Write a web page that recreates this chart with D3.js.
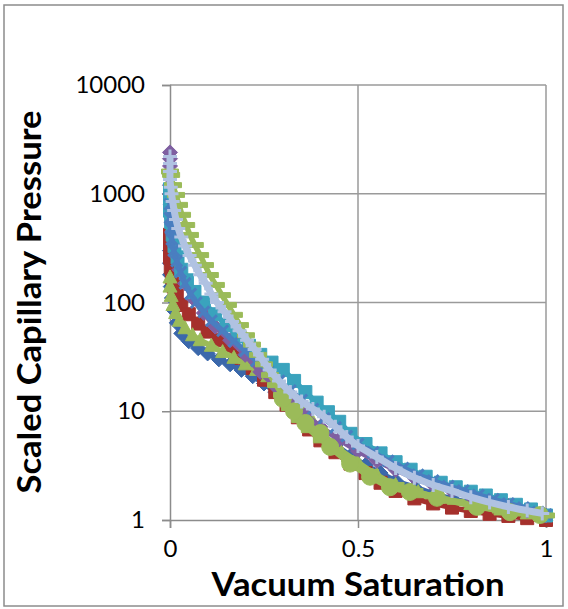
<!DOCTYPE html>
<html>
<head>
<meta charset="utf-8">
<script src="https://cdn.jsdelivr.net/npm/d3@7"></script>
<style>
body { margin: 0; background: #fff; }
text { font-family: Lato, "Open Sans", sans-serif; }
</style>
</head>
<body>
<script>
// axis values
var xTicks = [0, 0.5, 1];
var yTicks = [1, 10, 100, 1000, 10000];

// series points: [vacuum saturation, scaled capillary pressure]
var darkBlueDiamond = [[0,300],[0,230],[0,180],[0.002,140],[0.005,110],[0.01,85],[0.018,65],[0.03,52],[0.05,44],[0.075,38],[0.1,34],[0.13,30],[0.16,27],[0.19,24],[0.22,21],[0.25,18],[0.28,15],[0.31,12],[0.34,9.5],[0.37,7.6],[0.4,6.2],[0.44,4.9],[0.48,3.9],[0.52,3.2],[0.56,2.7],[0.6,2.3],[0.65,2.0],[0.7,1.75],[0.75,1.57],[0.8,1.43],[0.85,1.32],[0.9,1.22],[0.95,1.14],[1,1.07]];
var redSquare = [[0,420],[0,330],[0,260],[0.002,210],[0.005,170],[0.01,140],[0.018,115],[0.03,95],[0.05,78],[0.075,64],[0.1,54],[0.13,45],[0.16,38],[0.19,31],[0.22,25],[0.25,19.5],[0.28,15],[0.31,11.5],[0.34,8.8],[0.37,6.8],[0.4,5.4],[0.44,4.2],[0.48,3.3],[0.52,2.7],[0.56,2.2],[0.6,1.85],[0.65,1.58],[0.7,1.42],[0.75,1.3],[0.8,1.21],[0.85,1.14],[0.9,1.09],[0.95,1.04],[1,1.0]];
var greenTriangle = [[0,170],[0,140],[0.003,115],[0.008,95],[0.015,80],[0.025,68],[0.04,58],[0.06,50],[0.08,45],[0.11,40],[0.14,35],[0.17,31],[0.2,27],[0.23,24],[0.26,21],[0.29,18],[0.32,14.5],[0.35,11],[0.38,8],[0.41,6],[0.45,4.5],[0.5,3.4],[0.55,2.6],[0.6,2.1],[0.66,1.8],[0.72,1.6],[0.8,1.4],[0.88,1.25],[0.95,1.15],[1,1.1]];
var purpleDiamond = [[0,2400],[0,2100],[0,1800],[0,1500],[0,1200],[0,1000],[0.002,800],[0.004,600],[0.006,450],[0.01,350],[0.015,270],[0.025,200],[0.04,150],[0.06,110],[0.09,80],[0.12,60],[0.16,45],[0.2,33],[0.24,23],[0.28,17],[0.32,12.5],[0.36,9.3],[0.4,7.2],[0.45,5.5],[0.5,4.3],[0.55,3.5],[0.6,2.9],[0.65,2.45],[0.7,2.1],[0.75,1.85],[0.8,1.65],[0.85,1.5],[0.9,1.35],[0.95,1.22],[1,1.1]];
var tealSquare = [[0,1100],[0,900],[0,700],[0.003,550],[0.007,420],[0.012,330],[0.02,260],[0.03,200],[0.045,160],[0.065,125],[0.09,100],[0.12,78],[0.15,62],[0.18,49],[0.21,40],[0.24,33],[0.27,28],[0.3,24],[0.33,19],[0.36,15],[0.39,12],[0.42,9.8],[0.45,8],[0.48,6.2],[0.52,5],[0.56,4.1],[0.6,3.4],[0.64,2.9],[0.68,2.5],[0.72,2.2],[0.76,2.0],[0.8,1.82],[0.84,1.68],[0.88,1.52],[0.92,1.38],[0.96,1.25],[1,1.1]];
var blueCross = [[0,800],[0,600],[0.002,480],[0.005,380],[0.01,300],[0.018,240],[0.028,190],[0.04,150],[0.055,120],[0.07,100],[0.09,82],[0.11,68],[0.14,55],[0.17,44],[0.2,36],[0.23,29],[0.26,23.5],[0.29,19],[0.32,15.5],[0.35,12.7],[0.38,10.5],[0.41,8.6],[0.44,7.1],[0.47,5.9],[0.5,5.0],[0.54,4.2],[0.58,3.5],[0.62,3.0],[0.66,2.6],[0.7,2.3],[0.74,2.05],[0.78,1.87],[0.82,1.7],[0.86,1.55],[0.9,1.42],[0.94,1.3],[0.98,1.18],[1,1.12]];
var greenDash = [[0,1600],[0.003,1490],[0.008,1200],[0.016,975],[0.024,790],[0.032,640],[0.043,516],[0.053,418],[0.066,338],[0.08,273],[0.093,221],[0.106,179],[0.122,145],[0.138,117],[0.154,95],[0.17,77],[0.186,62],[0.202,50],[0.218,41],[0.234,33],[0.25,27],[0.266,21.5],[0.282,17.4],[0.298,14.1],[0.319,10.7],[0.346,8.3],[0.372,6.7],[0.404,5.4],[0.439,4.4],[0.479,3.6],[0.532,2.76],[0.6,2.1],[0.65,1.85],[0.7,1.65],[0.76,1.47],[0.82,1.33],[0.88,1.22],[0.94,1.15],[1,1.1]];
var greenCircle = [[0.3,13],[0.33,10],[0.36,7.8],[0.4,6.3],[0.426,4.7],[0.479,3.3],[0.532,2.5],[0.585,2.0],[0.638,1.81],[0.71,1.6],[0.816,1.32],[0.904,1.18],[0.984,1.11]];
var lightBluePlus = [[0,2200],[0,1900],[0,1600],[0,1350],[0.002,1150],[0.004,1000],[0.007,850],[0.011,700],[0.016,580],[0.022,480],[0.03,400],[0.04,330],[0.052,270],[0.066,220],[0.08,180],[0.095,150],[0.11,120],[0.125,100],[0.145,82],[0.165,67],[0.185,55],[0.205,45],[0.225,37],[0.245,30],[0.265,24],[0.29,19],[0.32,15],[0.35,12.3],[0.38,10.5],[0.41,8.9],[0.44,7.2],[0.47,5.8],[0.5,4.8],[0.55,3.8],[0.6,3.0],[0.65,2.45],[0.7,2.1],[0.75,1.85],[0.8,1.62],[0.85,1.45],[0.9,1.32],[0.95,1.22],[0.99,1.15]];

var seriesList = [
    {data: darkBlueDiamond, color: "#3B68AB", marker: "diamond"},
    {data: redSquare, color: "#A5302C", marker: "square"},
    {data: greenTriangle, color: "#9BBB59", marker: "triangle"},
    {data: purpleDiamond, color: "#7F5FA1", marker: "diamond"},
    {data: tealSquare, color: "#3AA3BD", marker: "square"},
    {data: blueCross, color: "#4A7EC0", marker: "x"},
    {data: greenDash, color: "#9BBB59", marker: "dash"},
    {data: greenCircle, color: "#9BBB59", marker: "circle"},
    {data: lightBluePlus, color: "#B0C2E2", marker: "plus"}
];

var W = 568, H = 609;
var plot = {left: 170, right: 546, top: 85, bottom: 520};

var svg = d3.select("body").append("svg")
    .attr("width", W)
    .attr("height", H);

// chart border
svg.append("rect")
    .attr("x", 4).attr("y", 5)
    .attr("width", 559).attr("height", 601)
    .attr("fill", "#fff")
    .attr("stroke", "#8c8c8c")
    .attr("stroke-width", 1.5);

var x = d3.scaleLinear().domain([0, 1]).range([plot.left, plot.right]);
var y = d3.scaleLog().domain([1, 10000]).range([plot.bottom, plot.top]);

// gridlines
svg.append("g").selectAll("line.h")
    .data(yTicks.slice(1))
    .enter().append("line")
    .attr("x1", plot.left).attr("x2", plot.right)
    .attr("y1", function(d) { return y(d); })
    .attr("y2", function(d) { return y(d); })
    .attr("stroke", "#9a9a9a").attr("stroke-width", 1.5);
svg.append("g").selectAll("line.v")
    .data(xTicks.slice(1))
    .enter().append("line")
    .attr("x1", function(d) { return x(d); })
    .attr("x2", function(d) { return x(d); })
    .attr("y1", plot.top).attr("y2", plot.bottom)
    .attr("stroke", "#9a9a9a").attr("stroke-width", 1.5);

// axes
var yAxis = svg.append("g")
    .attr("transform", "translate(" + plot.left + ",0)")
    .call(d3.axisLeft(y).tickValues(yTicks).tickFormat(d3.format("d")).tickSize(8).tickPadding(17));
var xAxis = svg.append("g")
    .attr("transform", "translate(0," + plot.bottom + ")")
    .call(d3.axisBottom(x).tickValues(xTicks).tickFormat(function(d) { return d; }).tickSize(8).tickPadding(12));
[yAxis, xAxis].forEach(function(a) {
    a.select(".domain").attr("stroke", "#8c8c8c").attr("stroke-width", 1.5);
    a.selectAll(".tick line").attr("stroke", "#8c8c8c").attr("stroke-width", 1.5);
    a.selectAll(".tick text").attr("fill", "#000")
        .style("font-family", "Lato, sans-serif").style("font-size", "24px");
});

// marker shapes
function markerPath(type) {
    switch (type) {
        case "diamond": return "M0,-7.5L7.5,0L0,7.5L-7.5,0Z";
        case "square": return "M-6.5,-6.5H6.5V6.5H-6.5Z";
        case "triangle": return "M0,-7.5L7,5.5L-7,5.5Z";
        case "dash": return "M-8.5,-2.5H8.5V2.5H-8.5Z";
        case "circle": return "M8.5,0A8.5,8.5 0 1,1 -8.5,0A8.5,8.5 0 1,1 8.5,0Z";
        case "plus": return "M-7,0H7M0,-7V7";
        case "x": return "M-5.5,-5.5L5.5,5.5M-5.5,5.5L5.5,-5.5";
    }
}

var line = d3.line()
    .x(function(d) { return x(d[0]); })
    .y(function(d) { return y(d[1]); })
    .curve(d3.curveCatmullRom);

seriesList.forEach(function(s) {
    var g = svg.append("g");
    g.append("path")
        .attr("d", line(s.data))
        .attr("fill", "none")
        .attr("stroke", s.color)
        .attr("stroke-width", s.marker == "plus" ? 7 : 5.5)
        .attr("stroke-linejoin", "round");
    var stroked = (s.marker == "plus" || s.marker == "x");
    g.selectAll("path.m")
        .data(s.data)
        .enter().append("path")
        .attr("class", "m")
        .attr("transform", function(d) { return "translate(" + x(d[0]) + "," + y(d[1]) + ")"; })
        .attr("d", markerPath(s.marker))
        .attr("fill", stroked ? "none" : s.color)
        .attr("stroke", s.color)
        .attr("stroke-width", stroked ? 3 : 1);
});

// axis titles
svg.append("text")
    .attr("x", 358).attr("y", 596)
    .attr("text-anchor", "middle")
    .attr("textLength", 293).attr("lengthAdjust", "spacingAndGlyphs")
    .style("font-size", "33px").style("font-weight", "bold")
    .text("Vacuum Saturation");
svg.append("text")
    .attr("transform", "translate(41,302) rotate(-90)")
    .attr("text-anchor", "middle")
    .attr("textLength", 383).attr("lengthAdjust", "spacingAndGlyphs")
    .style("font-size", "32px").style("font-weight", "bold")
    .text("Scaled Capillary Pressure");
</script>
</body>
</html>
